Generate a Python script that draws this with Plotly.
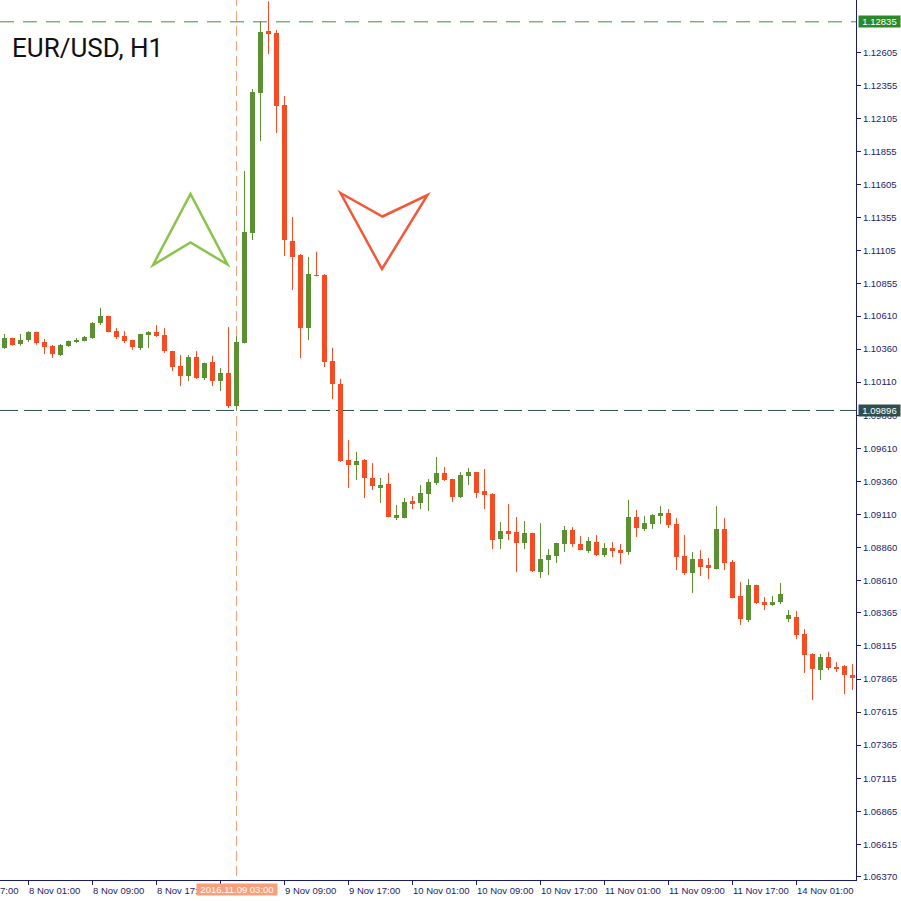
import plotly.graph_objects as go

# ---- data: EUR/USD H1 bars (bar index 0 = 7 Nov 22:00) ----
opens = [1.10371, 1.10443, 1.10399, 1.10429, 1.10489, 1.10414, 1.10384, 1.10315, 1.10384, 1.10414,
         1.10421, 1.10444, 1.10557, 1.10610, 1.10496, 1.10459, 1.10429, 1.10368, 1.10466, 1.10489,
         1.10466, 1.10345, 1.10232, 1.10156, 1.10300, 1.10141, 1.10262, 1.10118, 1.10179, 1.09930,
         1.10406, 1.11238, 1.12297, 1.12766, 1.12750, 1.12206, 1.11177, 1.11071, 1.10519, 1.10920,
         1.10920, 1.10270, 1.10096, 1.09521, 1.09483, 1.09521, 1.09385, 1.09317, 1.09340, 1.09090,
         1.09082, 1.09211, 1.09196, 1.09264, 1.09347, 1.09423, 1.09377, 1.09241, 1.09400, 1.09430,
         1.09286, 1.09264, 1.08923, 1.08984, 1.08976, 1.08893, 1.08969, 1.08674, 1.08765, 1.08795,
         1.08886, 1.08992, 1.08886, 1.08833, 1.08901, 1.08803, 1.08856, 1.08840, 1.08825, 1.09090,
         1.08999, 1.09037, 1.09097, 1.09120, 1.09037, 1.08795, 1.08666, 1.08772, 1.08727, 1.08697,
         1.08999, 1.08750, 1.08492, 1.08311, 1.08576, 1.08447, 1.08432, 1.08447, 1.08319, 1.08334,
         1.08205, 1.08054, 1.07933, 1.08031, 1.07955, 1.07963, 1.07895]
highs = [1.10474, 1.10447, 1.10474, 1.10496, 1.10492, 1.10436, 1.10391, 1.10399, 1.10424, 1.10444,
         1.10459, 1.10565, 1.10671, 1.10612, 1.10519, 1.10496, 1.10431, 1.10476, 1.10496, 1.10542,
         1.10519, 1.10347, 1.10315, 1.10315, 1.10345, 1.10257, 1.10308, 1.10217, 1.10527, 1.10459,
         1.11707, 1.12327, 1.12835, 1.12990, 1.12773, 1.12274, 1.11359, 1.11079, 1.11056, 1.11094,
         1.10928, 1.10368, 1.10134, 1.09672, 1.09582, 1.09529, 1.09498, 1.09385, 1.09423, 1.09181,
         1.09234, 1.09249, 1.09332, 1.09377, 1.09544, 1.09468, 1.09379, 1.09430, 1.09461, 1.09432,
         1.09453, 1.09271, 1.09052, 1.09188, 1.09090, 1.09060, 1.08971, 1.09044, 1.08848, 1.08895,
         1.09022, 1.09014, 1.08946, 1.08939, 1.08954, 1.08893, 1.08901, 1.08886, 1.09219, 1.09143,
         1.09097, 1.09112, 1.09173, 1.09150, 1.09082, 1.08954, 1.08825, 1.08840, 1.08780, 1.09173,
         1.09082, 1.08765, 1.08598, 1.08621, 1.08578, 1.08485, 1.08492, 1.08591, 1.08387, 1.08379,
         1.08243, 1.08061, 1.08054, 1.08069, 1.07993, 1.07970, 1.07978]
lows = [1.10361, 1.10386, 1.10386, 1.10414, 1.10393, 1.10323, 1.10293, 1.10308, 1.10376, 1.10406,
        1.10418, 1.10436, 1.10542, 1.10487, 1.10436, 1.10406, 1.10355, 1.10353, 1.10368, 1.10451,
        1.10330, 1.10194, 1.10081, 1.10118, 1.10134, 1.10126, 1.10081, 1.10043, 1.09914, 1.09896,
        1.10404, 1.11185, 1.11934, 1.12592, 1.11994, 1.11064, 1.10807, 1.10292, 1.10429, 1.10911,
        1.10224, 1.09982, 1.09506, 1.09309, 1.09370, 1.09234, 1.09294, 1.09196, 1.09088, 1.09067,
        1.09080, 1.09150, 1.09150, 1.09135, 1.09332, 1.09362, 1.09203, 1.09234, 1.09332, 1.09234,
        1.09150, 1.08848, 1.08848, 1.08916, 1.08674, 1.08848, 1.08674, 1.08629, 1.08651, 1.08742,
        1.08825, 1.08863, 1.08838, 1.08818, 1.08795, 1.08787, 1.08787, 1.08735, 1.08803, 1.08939,
        1.08984, 1.08999, 1.09037, 1.09007, 1.08689, 1.08651, 1.08515, 1.08644, 1.08621, 1.08695,
        1.08689, 1.08475, 1.08273, 1.08296, 1.08432, 1.08387, 1.08417, 1.08432, 1.08296, 1.08167,
        1.07910, 1.07706, 1.07857, 1.07933, 1.07918, 1.07751, 1.07782]
closes = [1.10443, 1.10393, 1.10429, 1.10489, 1.10406, 1.10378, 1.10323, 1.10391, 1.10421, 1.10429,
          1.10451, 1.10557, 1.10610, 1.10489, 1.10451, 1.10421, 1.10376, 1.10474, 1.10489, 1.10459,
          1.10345, 1.10224, 1.10156, 1.10300, 1.10141, 1.10255, 1.10118, 1.10179, 1.09930, 1.10414,
          1.11245, 1.12304, 1.12758, 1.12743, 1.12198, 1.11185, 1.11056, 1.10519, 1.10928, 1.10913,
          1.10262, 1.10096, 1.09514, 1.09483, 1.09514, 1.09385, 1.09324, 1.09332, 1.09090, 1.09105,
          1.09203, 1.09196, 1.09271, 1.09355, 1.09423, 1.09370, 1.09241, 1.09408, 1.09430, 1.09271,
          1.09256, 1.08916, 1.08984, 1.08961, 1.08893, 1.08969, 1.08682, 1.08772, 1.08803, 1.08893,
          1.08992, 1.08886, 1.08840, 1.08908, 1.08803, 1.08856, 1.08833, 1.08825, 1.09090, 1.09007,
          1.09044, 1.09105, 1.09120, 1.09029, 1.08787, 1.08666, 1.08772, 1.08712, 1.08704, 1.08999,
          1.08742, 1.08477, 1.08319, 1.08576, 1.08440, 1.08424, 1.08447, 1.08508, 1.08349, 1.08198,
          1.08046, 1.07940, 1.08031, 1.07948, 1.07948, 1.07895, 1.07872]

x_tick_index = [3, 11, 19, 27, 35, 43, 51, 59, 67, 75, 83, 91, 99]
x_tick_labels = ["8 Nov 01:00", "8 Nov 09:00", "8 Nov 17:00", "9 Nov 01:00", "9 Nov 09:00",
                 "9 Nov 17:00", "10 Nov 01:00", "10 Nov 09:00", "10 Nov 17:00", "11 Nov 01:00",
                 "11 Nov 09:00", "11 Nov 17:00", "14 Nov 01:00"]
y_ticks = [1.12605, 1.12355, 1.12105, 1.11855, 1.11605, 1.11355, 1.11105, 1.10855, 1.10610,
           1.10360, 1.10110, 1.09860, 1.09610, 1.09360, 1.09110, 1.08860, 1.08610, 1.08365,
           1.08115, 1.07865, 1.07615, 1.07365, 1.07115, 1.06865, 1.06615, 1.06370]

event_index = 29
event_label = "2016.11.09 03:00"
level_high = 1.12835
level_low = 1.09896
title_text = "EUR/USD, H1"

# ---- styles ----
UP = "#5b9133"
DOWN = "#f44d25"
NAVY = "#1c1c6e"
FONT = "Liberation Sans"
FS = 9.5
W, H = 901, 901
ML, MR, MT, MB = 0, 45, 0, 21
PW, PH = W - ML - MR, H - MT - MB

n = len(opens)
idx = list(range(n))
half_px = 0.5 / 8  # align 1px wicks to pixel columns
x_range = [-0.5 - half_px, n - 0.5 - half_px]
y_range = [1.06345, 1.13000]

fig = go.Figure()

# wicks
for col, up in ((UP, True), (DOWN, False)):
    wx, wy = [], []
    for i in idx:
        if (closes[i] >= opens[i]) == up:
            wx += [i, i, None]
            wy += [lows[i], highs[i], None]
    fig.add_trace(go.Scatter(x=wx, y=wy, mode="lines", line=dict(color=col, width=1),
                             hoverinfo="skip", showlegend=False))

# bodies
min_body = 0.00007
base = [min(o, c) for o, c in zip(opens, closes)]
height = [max(abs(c - o), min_body) for o, c in zip(opens, closes)]
colors = [UP if c >= o else DOWN for o, c in zip(opens, closes)]
fig.add_trace(go.Bar(x=idx, y=height, base=base, width=0.625,
                     marker=dict(color=colors, line=dict(width=0)),
                     showlegend=False, hoverinfo="skip"))


def px_x(p):
    return p / PW


def px_y(p):
    return 1 - p / PH


shapes = []
shapes.append(dict(type="line", xref="paper", yref="y", x0=0, x1=1, y0=level_high, y1=level_high,
                   line=dict(color="#3a8f3a", width=1, dash="14px,9px"), layer="below"))
shapes.append(dict(type="line", xref="paper", yref="y", x0=0, x1=1, y0=level_low, y1=level_low,
                   line=dict(color="#2f4f4f", width=1, dash="18px,6px"), layer="below"))
shapes.append(dict(type="line", xref="x", yref="paper", x0=event_index, x1=event_index,
                   y0=px_y(876), y1=1, line=dict(color="#f5a27f", width=1, dash="10px,5px"),
                   layer="below"))


def path(pts):
    return "M " + " L ".join(f"{px_x(x):.5f},{px_y(y):.5f}" for x, y in pts) + " Z"


shapes.append(dict(type="path", xref="paper", yref="paper",
                   path=path([(153, 265), (190.5, 194), (227.5, 264.5), (190.5, 242.5)]),
                   line=dict(color="#8cc34b", width=2.5)))
shapes.append(dict(type="path", xref="paper", yref="paper",
                   path=path([(340.5, 193), (382.5, 216.5), (427.5, 195), (382, 269)]),
                   line=dict(color="#f2583a", width=2.5)))

annotations = []
annotations.append(dict(text=title_text, xref="paper", yref="paper", x=px_x(10), y=px_y(31),
                        xanchor="left", yanchor="top", showarrow=False,
                        font=dict(family="Roboto", size=26, color="#111111")))
annotations.append(dict(text="7:00", xref="paper", yref="paper", x=0, y=0, xanchor="left",
                        yanchor="top", yshift=-3, xshift=-2, showarrow=False,
                        font=dict(family=FONT, size=FS, color=NAVY)))
for ti, tl in zip(x_tick_index, x_tick_labels):
    annotations.append(dict(text=tl, xref="x", yref="paper", x=ti, y=0, xanchor="left",
                            yanchor="top", yshift=-3, xshift=-2, showarrow=False,
                            font=dict(family=FONT, size=FS, color=NAVY)))
annotations.append(dict(text=event_label, xref="x", yref="paper", x=event_index, y=0,
                        xanchor="center", yanchor="top", yshift=-3, showarrow=False,
                        bgcolor="#f7a07a", borderpad=0, width=80, height=11,
                        font=dict(family=FONT, size=FS, color="white")))
for lvl, bg in ((level_high, "#2a8a2a"), (level_low, "#2f4f4f")):
    annotations.append(dict(text=f"{lvl:.5f}", xref="paper", yref="y", x=1, y=lvl,
                            xanchor="left", yanchor="middle", xshift=2, showarrow=False,
                            bgcolor=bg, borderpad=0, width=41, height=11,
                            font=dict(family=FONT, size=FS, color="white")))

fig.update_layout(
    width=W, height=H,
    margin=dict(l=ML, r=MR, t=MT, b=MB, pad=0),
    paper_bgcolor="white", plot_bgcolor="white",
    showlegend=False, bargap=0,
    shapes=shapes, annotations=annotations,
    xaxis=dict(range=x_range, showgrid=False, zeroline=False, showline=True, linecolor=NAVY,
               linewidth=1, ticks="outside", ticklen=4, tickcolor=NAVY, tickvals=x_tick_index,
               showticklabels=False, fixedrange=True),
    yaxis=dict(range=y_range, side="right", showgrid=False, zeroline=False, showline=True,
               linecolor=NAVY, linewidth=1, ticks="outside", ticklen=4, tickcolor=NAVY,
               tickvals=y_ticks, ticktext=[f"{v:.5f}" for v in y_ticks],
               tickfont=dict(family=FONT, size=FS, color=NAVY), fixedrange=True),
)

fig.write_html("out.html", config={"displayModeBar": False},
               post_script="document.body.style.margin='0';document.body.style.overflow='hidden';")
